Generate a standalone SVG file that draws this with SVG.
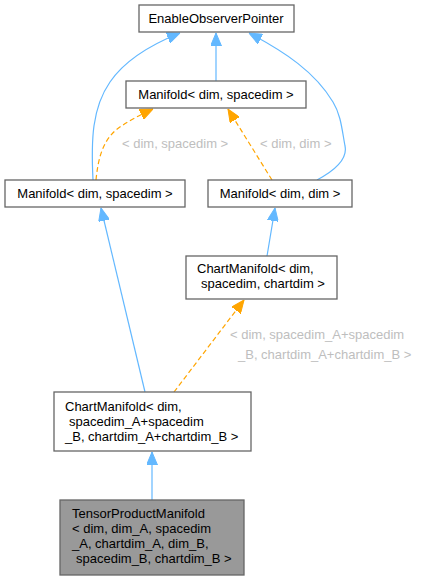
<svg xmlns="http://www.w3.org/2000/svg" width="424" height="580" viewBox="0 0 424 580">
<style>
.box{fill:#ffffff;stroke:#666666;stroke-width:1.3}
.cur{fill:#999999;stroke:#666666;stroke-width:1.3}
text{font-family:"Liberation Sans",Arial,sans-serif;font-size:13px;fill:#000000}
.c{text-anchor:middle}
.lbl{fill:#bebebe}
.inh{fill:none;stroke:#63b8ff;stroke-width:1.2;marker-end:url(#ab)}
.tpl{fill:none;stroke:#ffa500;stroke-width:1.2;stroke-dasharray:5,3;marker-end:url(#ao)}
</style>
<defs>
<marker id="ab" viewBox="0 0 13 11" refX="13" refY="5.5" markerWidth="13" markerHeight="11" markerUnits="userSpaceOnUse" orient="auto">
<path d="M0,0 L13,5.5 L0,11 Z" fill="#63b8ff" stroke="#63b8ff" stroke-width="1"/>
</marker>
<marker id="ao" viewBox="0 0 13 11" refX="13" refY="5.5" markerWidth="13" markerHeight="11" markerUnits="userSpaceOnUse" orient="auto">
<path d="M0,0 L13,5.5 L0,11 Z" fill="#ffa500" stroke="#ffa500" stroke-width="1"/>
</marker>
</defs>
<rect width="424" height="580" fill="#ffffff"/>
<g id="edges">
<path class="inh" d="M216,81 L216,33"/>
<path class="inh" d="M93,180 C91,140 92,108 110,82 C125,60 150,45 180,33"/>
<path class="inh" d="M317,180 C332,172 348,160 345,146 C342,130 341,115 333,102 C315,72 285,52 249,33"/>
<path class="tpl" d="M96,180 C98,160 102,142 116,130 C126,122 140,115 153,109"/>
<path class="tpl" d="M272,180 L228,109"/>
<path class="inh" d="M267,256 L275,208"/>
<path class="inh" d="M145,392 L101,208"/>
<path class="tpl" d="M174,392 L244,300"/>
<path class="inh" d="M152,500 L152,452"/>
<text class="lbl" x="122" y="148">&lt; dim, spacedim &gt;</text>
<text class="lbl" x="260" y="148">&lt; dim, dim &gt;</text>
<text class="lbl" x="230" y="339">&lt; dim, spacedim_A+spacedim</text>
<text class="lbl" x="238" y="359">_B, chartdim_A+chartdim_B &gt;</text>
</g>
<g id="node1">
<rect class="box" x="139" y="5" width="155" height="27"/>
<text class="c" x="216" y="23">EnableObserverPointer</text>
</g>
<g id="node2">
<rect class="box" x="126" y="81" width="180" height="27"/>
<text class="c" x="216" y="99">Manifold&lt; dim, spacedim &gt;</text>
</g>
<g id="node3">
<rect class="box" x="5" y="180" width="180" height="27"/>
<text class="c" x="95" y="198">Manifold&lt; dim, spacedim &gt;</text>
</g>
<g id="node4">
<rect class="box" x="208" y="180" width="144" height="27"/>
<text class="c" x="280" y="198">Manifold&lt; dim, dim &gt;</text>
</g>
<g id="node5">
<rect class="box" x="186" y="256" width="151" height="43"/>
<text x="197" y="273">ChartManifold&lt; dim,</text>
<text x="201" y="288">spacedim, chartdim &gt;</text>
</g>
<g id="node6">
<rect class="box" x="54" y="392" width="197" height="59"/>
<text x="65" y="411">ChartManifold&lt; dim,</text>
<text x="69" y="426">spacedim_A+spacedim</text>
<text x="65" y="441">_B, chartdim_A+chartdim_B &gt;</text>
</g>
<g id="node7">
<rect class="cur" x="60" y="500" width="184" height="75"/>
<text x="72" y="518">TensorProductManifold</text>
<text x="72" y="533">&lt; dim, dim_A, spacedim</text>
<text x="72" y="548">_A, chartdim_A, dim_B,</text>
<text x="76" y="563">spacedim_B, chartdim_B &gt;</text>
</g>
</svg>
